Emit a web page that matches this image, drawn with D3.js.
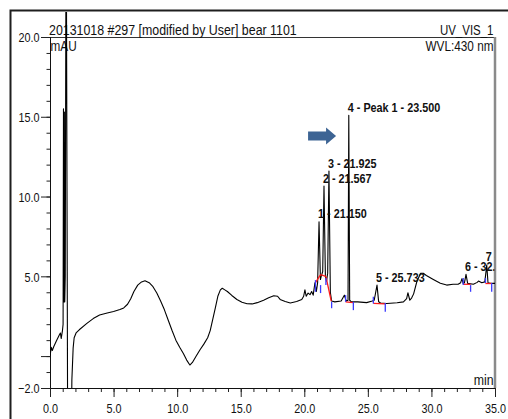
<!DOCTYPE html>
<html><head><meta charset="utf-8">
<script src="https://cdn.jsdelivr.net/npm/d3@7"></script>
<style>
html,body{margin:0;padding:0;background:#fff;}
svg{display:block;font-family:"Liberation Sans",Arial,sans-serif;}
</style></head>
<body>
<svg id="chart" width="508" height="419"></svg>
<script>
// ---- data ----
const times  = [0,0.1,0.18,0.3,0.5,0.75,0.82,0.88,0.98,1.03,1.06,1.1,1.13,1.16,1.2,1.27,1.4,1.65,1.72,1.82,1.9,2.05,2.3,2.9,3.4,3.9,4.5,5.0,5.5,5.8,6.1,6.35,6.6,6.9,7.2,7.47,7.8,8.1,8.4,8.7,9.0,9.3,9.6,9.9,10.2,10.5,10.75,11.0,11.2,11.5,11.8,12.1,12.4,12.6,12.8,13.0,13.2,13.4,13.55,13.75,13.95,14.3,14.7,15.1,15.5,15.9,16.3,16.8,17.2,17.6,17.9,18.1,18.5,18.9,19.4,19.8,19.95,20.05,20.15,20.3,20.45,20.58,20.7,20.84,20.95,21.05,21.16,21.27,21.33,21.45,21.55,21.66,21.75,21.84,21.94,22.05,22.15,22.4,22.9,23.15,23.3,23.44,23.5,23.57,23.7,24.2,24.9,25.35,25.5,25.72,25.85,26.0,26.5,27.3,27.8,28.05,28.15,28.3,28.45,28.6,28.85,29.15,29.36,29.6,30.15,30.7,31.2,31.7,32.1,32.3,32.4,32.5,32.6,32.72,32.85,33.3,33.6,33.7,33.96,34.2,34.35,34.45,34.6,35];
const signal = [0,0.55,0.35,0.6,0.95,1.35,1.45,1.1,1.6,2.0,15.5,3.4,15.3,3.4,5,30,-8,-8,-1.5,0.5,1.15,1.45,1.65,2.05,2.35,2.57,2.7,2.8,2.92,3.02,3.25,3.6,4.05,4.45,4.65,4.72,4.6,4.35,3.95,3.45,2.9,2.25,1.6,1.0,0.55,0.15,-0.25,-0.56,-0.4,0.0,0.4,0.75,1.15,1.6,2.3,3.0,3.75,4.15,4.25,4.15,4.05,3.8,3.55,3.38,3.28,3.27,3.35,3.5,3.65,3.78,3.75,3.55,3.42,3.33,3.42,3.55,3.75,4.15,3.75,3.95,3.85,4.05,3.82,4.6,4.05,4.6,8.42,4.8,5.0,5.3,10.66,5.0,4.7,5.2,11.6,4.0,3.45,3.4,3.45,3.82,3.45,3.5,15.1,3.5,3.4,3.4,3.35,3.45,3.5,4.45,3.4,3.33,3.3,3.34,3.4,3.6,3.97,3.5,3.65,3.9,4.66,5.19,5.19,5.05,4.8,4.56,4.45,4.5,4.5,4.6,4.85,4.55,4.6,5.12,4.56,4.5,4.62,4.7,4.6,4.65,5.7,4.6,4.56,4.56];

const peakLabels = ["1 - 21.150","2 - 21.567","3 - 21.925","4 - Peak 1 - 23.500","5 - 25.733","6 - 32.717","7 - 34.383"];
const peakTimes  = [21.16,21.55,21.94,23.5,25.72,32.72,34.35];
const peakApex   = [8.42,10.66,11.6,15.1,4.45,5.12,5.75];

// integration baselines (start time, start value, end time, end value)
const baseStartT = [20.88,21.28,21.70,23.25,25.43,32.50,34.25];
const baseStartV = [4.6,5.1,5.0,3.4,3.3,4.5,4.55];
const baseEndT   = [21.28,21.70,22.12,23.86,26.37,33.08,34.74];
const baseEndV   = [5.1,5.0,3.45,3.35,3.27,4.5,4.55];

// peak delimiter marks (time, from value, to value)
const delimT  = [20.88,21.28,21.70,22.15,23.25,23.86,25.43,26.37,32.5,33.08,34.25,34.74];
const delimV1 = [4.76,4.45,4.89,3.4,3.82,3.4,3.72,3.32,4.89,4.45,4.89,4.58];
const delimV2 = [4.03,3.95,4.45,3.0,3.4,2.88,3.3,2.78,4.45,4.03,4.58,4.03];

const xMajor = [0,5,10,15,20,25,30,35];
const yMajor = [-2,0,5,10,15,20];

const titleText = "20131018 #297 [modified by User] bear 1101";
const channelText = "UV_VIS_1";
const wvlText = "WVL:430 nm";
const yUnit = "mAU";
const xUnit = "min";

// ---- drawing ----
const svg = d3.select("#chart");
const x = d3.scaleLinear().domain([0,35]).range([50,495]);
const y = d3.scaleLinear().domain([-2,20]).range([388,37]);

function squeeze(sel, f){
  sel.each(function(){
    const w = this.getComputedTextLength();
    if (w>0) d3.select(this).attr("textLength", w*f).attr("lengthAdjust","spacingAndGlyphs");
  });
}

// outer frame
svg.append("rect").attr("x",10.5).attr("y",10.5).attr("width",520).attr("height",430)
  .attr("fill","none").attr("stroke","#1e1e1e").attr("stroke-width",2);

const defs = svg.append("defs");
defs.append("clipPath").attr("id","plotclip").append("rect")
  .attr("x",50).attr("y",12).attr("width",445).attr("height",376);
defs.append("clipPath").attr("id","labelclip").append("rect")
  .attr("x",0).attr("y",0).attr("width",494.5).attr("height",419);

// plot frame lines
svg.append("line").attr("x1",50).attr("x2",495).attr("y1",37.5).attr("y2",37.5).attr("stroke","#333").attr("stroke-width",1);
svg.append("line").attr("x1",495).attr("x2",495).attr("y1",37).attr("y2",388).attr("stroke","#8a8a8a").attr("stroke-width",2.5);

// axes
const yMinorAxis = d3.axisLeft(y).tickValues(d3.range(-2,21,1)).tickSize(3.5).tickFormat("");
const yMajorAxis = d3.axisLeft(y).tickValues(yMajor).tickSize(9).tickPadding(1.5)
  .tickFormat(d => d===0 ? "" : d3.format(".1f")(d));
const xMinorAxis = d3.axisBottom(x).tickValues(d3.range(0,36,1)).tickSize(4).tickFormat("");
const xMajorAxis = d3.axisBottom(x).tickValues(xMajor).tickSize(9).tickPadding(6)
  .tickFormat(d3.format(".1f"));

function styleAxis(g){
  g.select(".domain").attr("stroke","#111");
  g.selectAll(".tick line").attr("stroke","#222");
  g.selectAll("text").attr("fill","#111").style("font-size","13.5px").attr("font-family","Liberation Sans, Arial, sans-serif");
}
const gy1 = svg.append("g").attr("transform","translate(50,0)").call(yMinorAxis).call(styleAxis);
const gy2 = svg.append("g").attr("transform","translate(50,0)").call(yMajorAxis).call(styleAxis);
gy2.selectAll("text").attr("dy","0.35em");
squeeze(gy2.selectAll("text"), 0.8);
const gx1 = svg.append("g").attr("transform","translate(0,388)").call(xMinorAxis).call(styleAxis);
const gx2 = svg.append("g").attr("transform","translate(0,388)").call(xMajorAxis).call(styleAxis);
squeeze(gx2.selectAll("text"), 0.8);

// header texts
const t1 = svg.append("text").attr("x",49).attr("y",35).text(titleText)
  .style("font-size","14px").attr("fill","#111");
squeeze(t1, 0.885);
const t2 = svg.append("text").attr("x",493.5).attr("y",34.5).attr("text-anchor","end").text(channelText)
  .style("font-size","14px").attr("fill","#111");
squeeze(t2, 0.82);
const t3 = svg.append("text").attr("x",493.5).attr("y",50.5).attr("text-anchor","end").text(wvlText)
  .style("font-size","14px").attr("fill","#111");
squeeze(t3, 0.84);
const t4 = svg.append("text").attr("x",50.5).attr("y",50.5).text(yUnit)
  .style("font-size","14px").attr("fill","#111");
squeeze(t4, 0.84);
const t5 = svg.append("text").attr("x",493.5).attr("y",384.5).attr("text-anchor","end").text(xUnit)
  .style("font-size","14px").attr("fill","#111");
squeeze(t5, 0.88);

// chromatogram trace
const pts = times.map((t,i)=>[t,signal[i]]);
svg.append("path").datum(pts).attr("clip-path","url(#plotclip)")
  .attr("d", d3.line().x(d=>x(d[0])).y(d=>y(d[1])))
  .attr("fill","none").attr("stroke","#000").attr("stroke-width",1.1).attr("stroke-linejoin","round");

// integration baselines
svg.append("g").selectAll("line").data(baseStartT).join("line")
  .attr("x1",(d,i)=>x(d)).attr("y1",(d,i)=>y(baseStartV[i]))
  .attr("x2",(d,i)=>x(baseEndT[i])).attr("y2",(d,i)=>y(baseEndV[i]))
  .attr("stroke","#ff1a1a").attr("stroke-width",1.3);

// delimiters
svg.append("g").selectAll("line").data(delimT).join("line")
  .attr("x1",d=>x(d)).attr("x2",d=>x(d))
  .attr("y1",(d,i)=>y(delimV1[i])).attr("y2",(d,i)=>y(delimV2[i]))
  .attr("stroke","#3a3aff").attr("stroke-width",1.3);

// peak labels
const lab = svg.append("g").attr("clip-path","url(#labelclip)").selectAll("text").data(peakLabels).join("text")
  .attr("x",(d,i)=>x(peakTimes[i])-1).attr("y",(d,i)=>y(peakApex[i])-3.5)
  .text(d=>d).style("font-size","12px").style("font-weight","bold").attr("fill","#111");
squeeze(lab, 0.9);

// annotation arrow pointing at main peak
const tipX = x(22.5), tipY = y(13.8);
svg.append("path")
  .attr("d", `M${tipX-28},${tipY-4.5} L${tipX-10},${tipY-4.5} L${tipX-10},${tipY-8.5} L${tipX},${tipY} L${tipX-10},${tipY+8.5} L${tipX-10},${tipY+4.5} L${tipX-28},${tipY+4.5} Z`)
  .attr("fill","#3d6494");
</script>
</body></html>
